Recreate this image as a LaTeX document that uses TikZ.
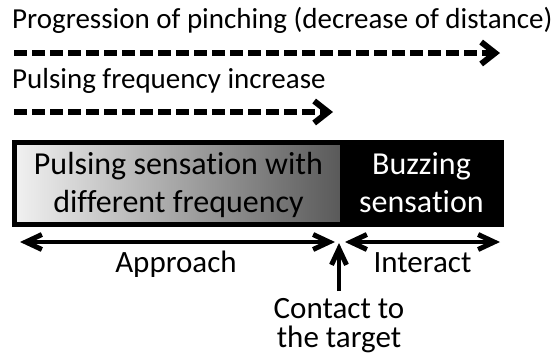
\documentclass[tikz,border=0pt]{standalone}
\usepackage{fontspec}
\setmainfont{Carlito}[RawFeature={-liga;-clig;-dlig}]
\usetikzlibrary{arrows.meta}
\definecolor{gradL}{HTML}{F0F0F0}
\definecolor{gradR}{HTML}{5A5A5A}
\tikzset{
  titletext/.style={anchor=base west, inner sep=0pt, font=\fontsize{29}{34}\selectfont},
  boxtext/.style={anchor=base, inner sep=0pt, align=center, font=\fontsize{32}{37.5}\selectfont},
  labeltext/.style={anchor=base, inner sep=0pt, align=center, font=\fontsize{31}{29}\selectfont},
  dasharrow/.style={line width=5.5pt, dash pattern=on 13pt off 5pt,
    -{Straight Barb[length=14pt, width=22pt, line width=6pt]}},
  solidarrow/.style={line width=4.5pt,
    -{Straight Barb[length=16pt, width=15pt, line width=5pt]}},
  dblarrow/.style={line width=4.5pt,
    {Straight Barb[length=16pt, width=15pt, line width=5pt]}-{Straight Barb[length=16pt, width=15pt, line width=5pt]}},
}
\begin{document}
\begin{tikzpicture}[x=1pt, y=-1pt]
\useasboundingbox (0,0) rectangle (558,354);
\fill[white] (0,0) rectangle (558,354);

% titles and dashed arrows
\node[titletext] (t1) at (12,28) {Progression of pinching (decrease of distance)};
\coordinate (d1s) at (14,53);
\coordinate (d1e) at (500,53);
\draw[dasharrow] (d1s) -- (d1e);
\node[titletext] (t2) at (12,88) {Pulsing frequency increase};
\coordinate (d2s) at (14,112);
\coordinate (d2e) at (333,112);
\draw[dasharrow] (d2s) -- (d2e);

% bar
\shade[left color=gradL, right color=gradR] (17,145) rectangle (340,222);
\fill[black] (340,145) rectangle (502,222);
\draw[line width=5pt] (14.5,142.5) rectangle (501.5,224.5);
\node[boxtext] (pulse) at (178.5,212) {Pulsing sensation with\\different frequency};
\node[boxtext, text=white] (buzz) at (421.5,212) {Buzzing\\sensation};

% range arrows
\coordinate (a1) at (20,242);
\coordinate (a2) at (335,242);
\coordinate (b1) at (345,242);
\coordinate (b2) at (500,242);
\draw[dblarrow] (a1) -- (a2);
\draw[dblarrow] (b1) -- (b2);
\node[labeltext] (appr) at (176,272) {Approach};
\node[labeltext] (inter) at (422.5,272) {Interact};

% contact
\node[labeltext] (contact) at (339,347) {Contact to\\the target};
\coordinate (ctip) at (339,243);
\coordinate (ctail) at (339,291);
\draw[solidarrow] (ctail) -- (ctip);
\end{tikzpicture}
\end{document}
